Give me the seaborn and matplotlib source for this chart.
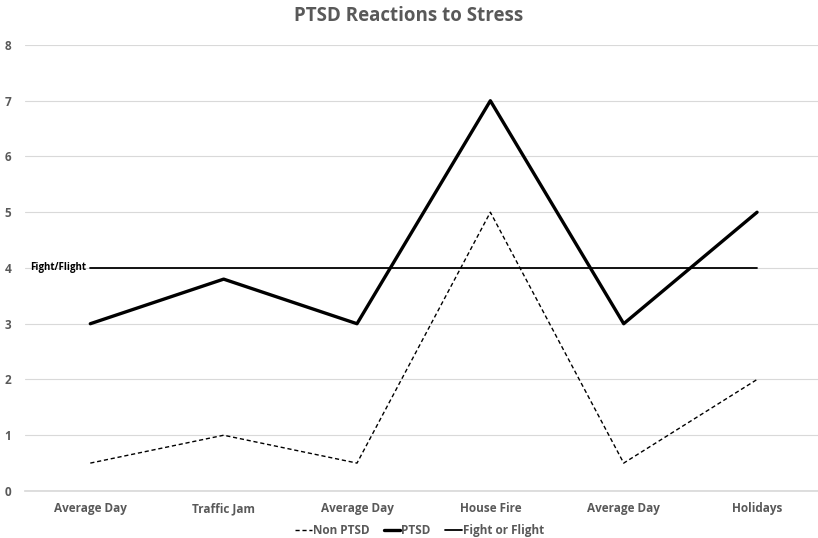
import matplotlib
matplotlib.use("Agg")
import matplotlib.pyplot as plt
import seaborn as sns
import pandas as pd

# --- data ---
categories = ["Average Day", "Traffic Jam", "Average Day", "House Fire", "Average Day", "Holidays"]
non_ptsd = [0.5, 1, 0.5, 5, 0.5, 2]
ptsd = [3, 3.8, 3, 7, 3, 5]
fight_or_flight = [4, 4, 4, 4, 4, 4]

sns.set_theme(style="white")
plt.rcParams['font.family'] = ['Open Sans', 'DejaVu Sans']

df = pd.DataFrame({
    'pos': range(len(categories)),
    'Non PTSD': non_ptsd,
    'PTSD': ptsd,
    'Fight or Flight': fight_or_flight,
})

fig = plt.figure(figsize=(8.18, 5.38), dpi=100)
ax = fig.add_axes([0.031, 0.0874, 0.969, 0.829])

grey = '#595959'
sns.lineplot(data=df, x='pos', y='Non PTSD', ax=ax, color='black', lw=1.0,
             linestyle=(0, (3, 2)), label='Non PTSD')
sns.lineplot(data=df, x='pos', y='PTSD', ax=ax, color='black', lw=2.4, label='PTSD')
sns.lineplot(data=df, x='pos', y='Fight or Flight', ax=ax, color='black', lw=1.3,
             label='Fight or Flight')

ax.set_xlim(-0.487, 5.457)
ax.set_ylim(0, 8)
ax.set_yticks(range(0, 9))
ax.yaxis.grid(True, color='#d9d9d9', lw=0.8)
ax.set_axisbelow(True)
for s in ax.spines.values():
    s.set_visible(False)
ax.spines['bottom'].set_visible(True)
ax.spines['bottom'].set_color('#d9d9d9')

ax.set_xticks(df['pos'])
ax.set_xticklabels(categories)
ax.tick_params(axis='both', length=0, labelsize=8.5, colors=grey, pad=8)
ax.tick_params(axis='y', pad=10)
for lbl in ax.get_xticklabels() + ax.get_yticklabels():
    lbl.set_fontweight('bold')
ax.set_xlabel('')
ax.set_ylabel('')

ax.text(-0.03, 4.0, 'Fight/Flight', fontsize=7, fontweight='bold', color='black',
        va='center', ha='right')

fig.suptitle('PTSD Reactions to Stress', fontsize=13.5, fontweight='bold', color=grey, y=0.988)

ax.get_legend().remove()
handles, labels = ax.get_legend_handles_labels()
fig.legend(handles, labels, loc='center', bbox_to_anchor=(0.513, 0.014), ncol=3,
           frameon=False, handlelength=1.4, handletextpad=0.1, columnspacing=1.2,
           labelcolor=grey, prop={'weight': 'bold', 'size': 8.5})

fig.savefig('out.png', dpi=100)
